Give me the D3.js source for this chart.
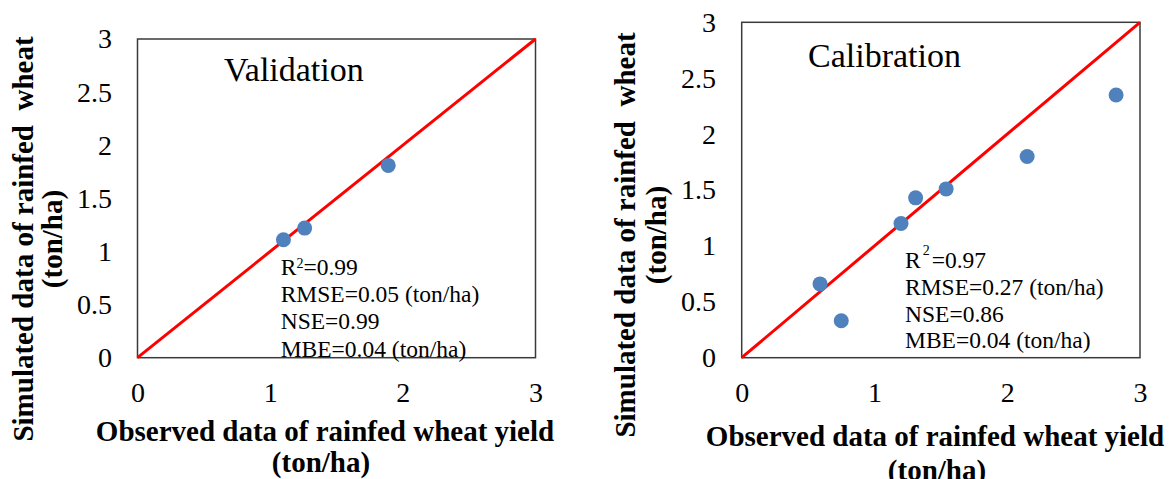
<!DOCTYPE html>
<html>
<head>
<meta charset="utf-8">
<script src="https://cdn.jsdelivr.net/npm/d3@7"></script>
<style>
  html, body { margin: 0; padding: 0; background: #fff; }
  svg { display: block; }
  svg text { font-family: "Liberation Serif", "Times New Roman", Times, serif; }
</style>
</head>
<body>
<svg id="chart" width="1171" height="479"></svg>
<script>
// ---- data ----
const valObserved = [1.10, 1.26, 1.89];
const valSimulated = [1.11, 1.22, 1.81];
const calObserved = [0.59, 0.75, 1.20, 1.31, 1.54, 2.15, 2.82];
const calSimulated = [0.66, 0.33, 1.20, 1.43, 1.51, 1.80, 2.35];
const xTicks = [0, 1, 2, 3];
const yTicks = [0, 0.5, 1, 1.5, 2, 2.5, 3];
const lineEnds = [0, 3];
const valStats = ["=0.99", "RMSE=0.05 (ton/ha)", "NSE=0.99", "MBE=0.04 (ton/ha)"];
const calStats = ["=0.97", "RMSE=0.27 (ton/ha)", "NSE=0.86", "MBE=0.04 (ton/ha)"];

const FONT = '"Liberation Serif", "Times New Roman", Times, serif';
const svg = d3.select("#chart");

const panels = [
  { title: "Validation", obs: valObserved, sim: valSimulated, stats: valStats,
    box: { x0: 137.5, x1: 535.5, y0: 39, y1: 357.7 },
    titlePos: [224, 81], statPos: [280.7, 275], statGap: 27.2, supRaise: 6.7, supGap: 0,
    yTitleX: [33.3, 61.5], yTitleC: 239, xTitleC: [325, 321], xTitleY: [441, 472] },
  { title: "Calibration", obs: calObserved, sim: calSimulated, stats: calStats,
    box: { x0: 741.7, x1: 1140, y0: 22.3, y1: 357.7 },
    titlePos: [808, 67], statPos: [905, 268.3], statGap: 26.7, supRaise: 13.3, supGap: 2,
    yTitleX: [634.5, 666], yTitleC: 235, xTitleC: [935, 937], xTitleY: [446, 480] }
];

panels.forEach(p => {
  const x = d3.scaleLinear().domain([0, 3]).range([p.box.x0, p.box.x1]);
  const y = d3.scaleLinear().domain([0, 3]).range([p.box.y1, p.box.y0]);
  const g = svg.append("g");

  // box
  g.append("rect")
    .attr("x", p.box.x0).attr("y", p.box.y0)
    .attr("width", p.box.x1 - p.box.x0).attr("height", p.box.y1 - p.box.y0)
    .attr("fill", "none").attr("stroke", "#3a3a3a").attr("stroke-width", 1.5);

  // axes
  const xa = g.append("g").attr("transform", `translate(0,${p.box.y1})`)
    .call(d3.axisBottom(x).tickValues(xTicks).tickSize(0).tickFormat(d3.format("")));
  const ya = g.append("g").attr("transform", `translate(${p.box.x0},0)`)
    .call(d3.axisLeft(y).tickValues(yTicks).tickSize(0).tickPadding(25.6).tickFormat(d3.format("")));
  [xa, ya].forEach(a => {
    a.attr("font-family", FONT);
    a.select(".domain").remove();
    a.selectAll("text").attr("font-size", 28).attr("fill", "#000").style("font-family", FONT);
  });
  xa.selectAll("text").attr("dy", 0).attr("y", 402 - p.box.y1);

  // 1:1 line
  g.append("line")
    .attr("x1", x(lineEnds[0])).attr("y1", y(lineEnds[0]))
    .attr("x2", x(lineEnds[1])).attr("y2", y(lineEnds[1]))
    .attr("stroke", "#FF0000").attr("stroke-width", 3);

  // points
  g.selectAll("circle.pt").data(p.obs.map((d, i) => [d, p.sim[i]])).enter()
    .append("circle").attr("class", "pt")
    .attr("cx", d => x(d[0])).attr("cy", d => y(d[1])).attr("r", 7.5)
    .attr("fill", "#4F81BD");

  // panel title
  g.append("text").attr("x", p.titlePos[0]).attr("y", p.titlePos[1])
    .attr("font-size", 34).text(p.title);

  // stats
  const st = g.append("g").attr("font-size", 23.5);
  const first = st.append("text").attr("x", p.statPos[0]).attr("y", p.statPos[1]);
  first.append("tspan").text("R");
  first.append("tspan").attr("font-size", 14).attr("dy", -p.supRaise).attr("dx", p.supGap).text("2");
  first.append("tspan").attr("dy", p.supRaise).attr("dx", p.supGap).text(p.stats[0]);
  p.stats.slice(1).forEach((s, i) => {
    st.append("text").attr("x", p.statPos[0]).attr("y", p.statPos[1] + p.statGap * (i + 1)).text(s);
  });

  // axis titles
  const yt = g.append("g").attr("font-weight", "bold").attr("font-size", 29).attr("text-anchor", "middle");
  yt.append("text").attr("transform", `translate(${p.yTitleX[0]},${p.yTitleC}) rotate(-90)`)
    .style("white-space", "pre").text("Simulated data of rainfed  wheat");
  yt.append("text").attr("transform", `translate(${p.yTitleX[1]},${p.yTitleC}) rotate(-90)`)
    .text("(ton/ha)");
  const xt = g.append("g").attr("font-weight", "bold").attr("font-size", 29).attr("text-anchor", "middle");
  xt.append("text").attr("x", p.xTitleC[0]).attr("y", p.xTitleY[0]).text("Observed data of rainfed wheat yield");
  xt.append("text").attr("x", p.xTitleC[1]).attr("y", p.xTitleY[1]).text("(ton/ha)");
});
</script>
</body>
</html>
